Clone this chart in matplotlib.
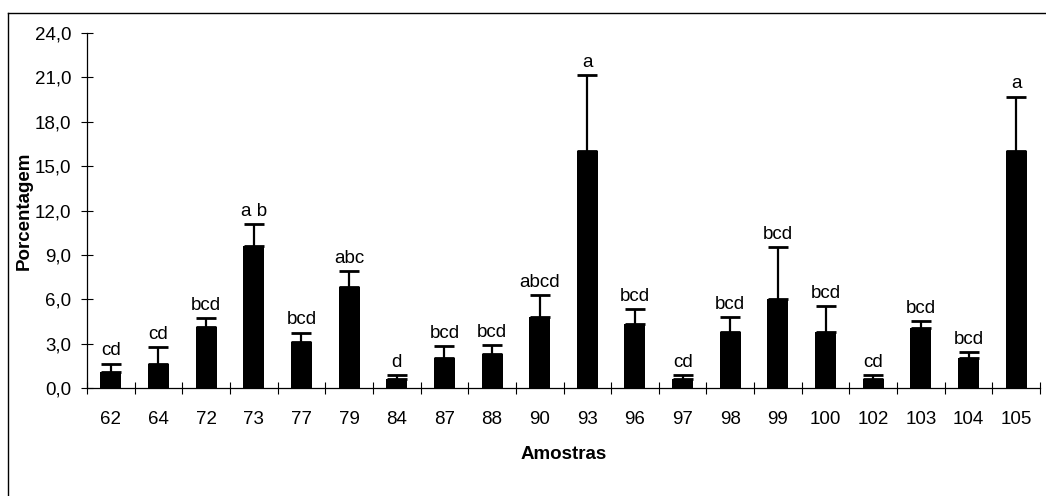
import numpy as np
import matplotlib
matplotlib.use('Agg')
import matplotlib.pyplot as plt
from matplotlib.lines import Line2D

plt.rcParams['font.family'] = ['Liberation Sans', 'DejaVu Sans']

# sample codes, mean percentage, upper error and Tukey letters
amostras = ['62', '64', '72', '73', '77', '79', '84', '87', '88', '90',
            '93', '96', '97', '98', '99', '100', '102', '103', '104', '105']
media = [1.1, 1.6, 4.1, 9.6, 3.1, 6.8, 0.6, 2.05, 2.3, 4.8,
         16.0, 4.3, 0.6, 3.8, 6.0, 3.8, 0.6, 4.05, 2.05, 16.0]
erro = [0.55, 1.15, 0.65, 1.5, 0.65, 1.1, 0.25, 0.8, 0.6, 1.5,
        5.15, 1.05, 0.25, 1.0, 3.5, 1.75, 0.25, 0.45, 0.4, 3.7]
letras = ['cd', 'cd', 'bcd', 'a b', 'bcd', 'abc', 'd', 'bcd', 'bcd', 'abcd',
          'a', 'bcd', 'cd', 'bcd', 'bcd', 'bcd', 'cd', 'bcd', 'bcd', 'a']

fs = 13.5

fig = plt.figure(figsize=(10.46, 4.96), dpi=100)
ax = fig.add_axes([87/1046, 1-388/496, (1040-87)/1046, (388-33)/496])

x = np.arange(len(amostras))
ax.bar(x, media, width=0.44, color='black', zorder=2)
ax.errorbar(x, media, yerr=[np.zeros(len(erro)), erro], fmt='none',
            ecolor='black', elinewidth=1.6, capsize=7, capthick=2, zorder=3)

for xi, m, e, l in zip(x, media, erro, letras):
    ax.annotate(l, (xi, m + e), xytext=(0, 3), textcoords='offset points',
                ha='center', va='bottom', fontsize=fs)

ax.set_xlim(-0.5, len(amostras) - 0.5)
ax.set_ylim(0, 24)
yt = np.arange(0, 25, 3)
ax.set_yticks(yt)
ax.set_yticklabels([('%.1f' % v).replace('.', ',') for v in yt])
ax.set_xticks(x)
ax.set_xticklabels(amostras)
ax.set_xticks(np.arange(-0.5, len(amostras)), minor=True)

ax.tick_params(axis='x', which='major', length=0, pad=16.5, labelsize=fs)
ax.tick_params(axis='x', which='minor', direction='inout', length=9, width=0.8)
ax.tick_params(axis='y', direction='inout', length=9, width=0.8, pad=7, labelsize=fs)

for s in ['top', 'right']:
    ax.spines[s].set_visible(False)
for s in ['left', 'bottom']:
    ax.spines[s].set_linewidth(0.9)

ax.set_xlabel('Amostras', fontweight='bold', fontsize=fs, labelpad=13)
ax.set_ylabel('Porcentagem', fontweight='bold', fontsize=fs)
ax.yaxis.set_label_coords(-0.057, 0.5)

# outer chart border (cut off at right and bottom)
fig.add_artist(Line2D([8/1046, 1.0], [1-13/496, 1-13/496], color='black', lw=1, transform=fig.transFigure))
fig.add_artist(Line2D([8/1046, 8/1046], [0, 1-13/496], color='black', lw=1, transform=fig.transFigure))

fig.savefig('out.png', dpi=100)
